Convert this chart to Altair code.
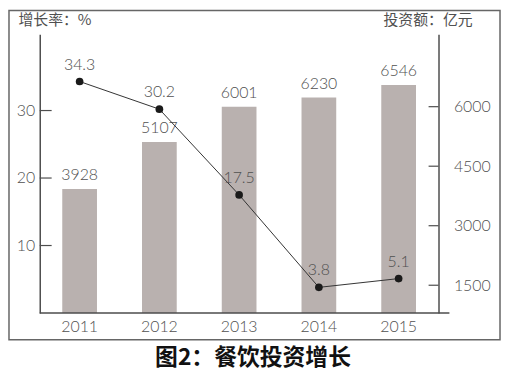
import altair as alt
import pandas as pd

# ---- data ----
years = ["2011", "2012", "2013", "2014", "2015"]
invest = [3928, 5107, 6001, 6230, 6546]          # 投资额：亿元 (bars)
growth = [34.3, 30.2, 17.5, 3.8, 5.1]            # 增长率：% (line)
rate_ticks = [10, 20, 30]
invest_ticks = [1500, 3000, 4500, 6000]

df = pd.DataFrame({"year": years, "invest": invest, "growth": growth})
rate_tick_df = pd.DataFrame({"t": rate_ticks})
inv_tick_df = pd.DataFrame({"t": invest_ticks})
one = pd.DataFrame({"k": [0]})

W, H = 402, 281
RATE_DOMAIN = [0, 41.3]
INV_DOMAIN = [800, 7825]
AX = "#4d4d4d"
TXT = "#505050"
BAR = "#b9b1af"
FONT = "Lato"

x_enc = alt.X(
    "year:N",
    sort=years,
    scale=alt.Scale(paddingInner=0.56, paddingOuter=0.28),
    axis=alt.Axis(title=None, labelAngle=0, domain=False, ticks=False,
                  labelPadding=6, labelFontSize=16, labelColor=TXT,
                  labelFont=FONT, labelFontWeight=300),
)

inv_scale = alt.Scale(domain=INV_DOMAIN, zero=False, nice=False)
rate_scale = alt.Scale(domain=RATE_DOMAIN, zero=False, nice=False)

inv_axis = alt.Axis(orient="right", values=invest_ticks, format="d", ticks=False,
                    grid=False, domainColor=AX, domainWidth=1.5,
                    labelPadding=15, labelFontSize=16, labelColor=TXT,
                    labelFont=FONT, labelFontWeight=300,
                    title="投资额：亿元", titleAngle=0, titleAlign="left",
                    titleBaseline="middle", titleX=-56, titleY=-15,
                    titleFont="Noto Sans CJK SC", titleFontSize=15,
                    titleFontWeight="normal", titleColor=TXT)
rate_axis = alt.Axis(orient="left", values=rate_ticks, format="d", ticks=False,
                     grid=False, domainColor=AX, domainWidth=1.5,
                     labelPadding=5, labelFontSize=16, labelColor=TXT,
                     labelFont=FONT, labelFontWeight=300,
                     title="增长率：%", titleAngle=0, titleAlign="left",
                     titleBaseline="middle", titleX=-22, titleY=-15,
                     titleFont="Noto Sans CJK SC", titleFontSize=15,
                     titleFontWeight="normal", titleColor=TXT)

bars = alt.Chart(df).mark_bar(color=BAR, size=35).encode(
    x=x_enc,
    y=alt.Y("invest:Q", scale=inv_scale, axis=inv_axis),
    y2=alt.datum(INV_DOMAIN[0]),
)
bar_text = alt.Chart(df).mark_text(baseline="bottom", dy=-6, fontSize=16,
                                   color=TXT, font=FONT, fontWeight=300).encode(
    x=alt.X("year:N", sort=years),
    y=alt.Y("invest:Q", scale=inv_scale, axis=inv_axis),
    text=alt.Text("invest:Q", format="d"),
)
inv_ticks = alt.Chart(inv_tick_df).mark_rule(color=AX, strokeWidth=1.2).encode(
    y=alt.Y("t:Q", scale=inv_scale, axis=inv_axis),
    x=alt.value(W - 10), x2=alt.value(W),
)
bar_group = alt.layer(bars, bar_text, inv_ticks)

line = alt.Chart(df).mark_line(color="#333333", strokeWidth=1).encode(
    x=alt.X("year:N", sort=years),
    y=alt.Y("growth:Q", scale=rate_scale, axis=rate_axis),
)
points = alt.Chart(df).mark_point(filled=True, color="#1a1a1a", size=60,
                                  opacity=1).encode(
    x=alt.X("year:N", sort=years),
    y=alt.Y("growth:Q", scale=rate_scale, axis=rate_axis),
)
pt_text = alt.Chart(df).mark_text(baseline="bottom", dy=-9, fontSize=16,
                                  color=TXT, font=FONT, fontWeight=300).encode(
    x=alt.X("year:N", sort=years),
    y=alt.Y("growth:Q", scale=rate_scale, axis=rate_axis),
    text=alt.Text("growth:Q", format=".1f"),
)
rate_tick_rules = alt.Chart(rate_tick_df).mark_rule(color=AX, strokeWidth=1.2).encode(
    y=alt.Y("t:Q", scale=rate_scale, axis=rate_axis),
    x=alt.value(0), x2=alt.value(12),
)
rate_group = alt.layer(line, points, pt_text, rate_tick_rules)

x_line = alt.Chart(one).mark_rule(color=AX, strokeWidth=1.5).encode(
    x=alt.value(0), x2=alt.value(W + 11), y=alt.value(H),
)
frame = alt.Chart(one).mark_rect(fill=None, stroke="#666666", strokeWidth=1.5).encode(
    x=alt.value(-31), x2=alt.value(464), y=alt.value(-24), y2=alt.value(308),
)
title = alt.Chart(one).mark_text(text="图2：餐饮投资增长", font="Noto Sans CJK SC",
                                 fontSize=23, fontWeight="bold", color="#111111",
                                 align="center", baseline="middle").encode(
    x=alt.value(215), y=alt.value(326),
)

chart = alt.layer(bar_group, rate_group, x_line, frame, title).resolve_scale(
    y="independent"
).properties(
    width=W, height=H,
    autosize=alt.AutoSizeParams(type="none"),
    padding={"left": 32, "top": 25, "right": 63, "bottom": 60},
).configure_view(stroke=None)

chart.save("out.html", embed_options={"renderer": "svg", "actions": False})
